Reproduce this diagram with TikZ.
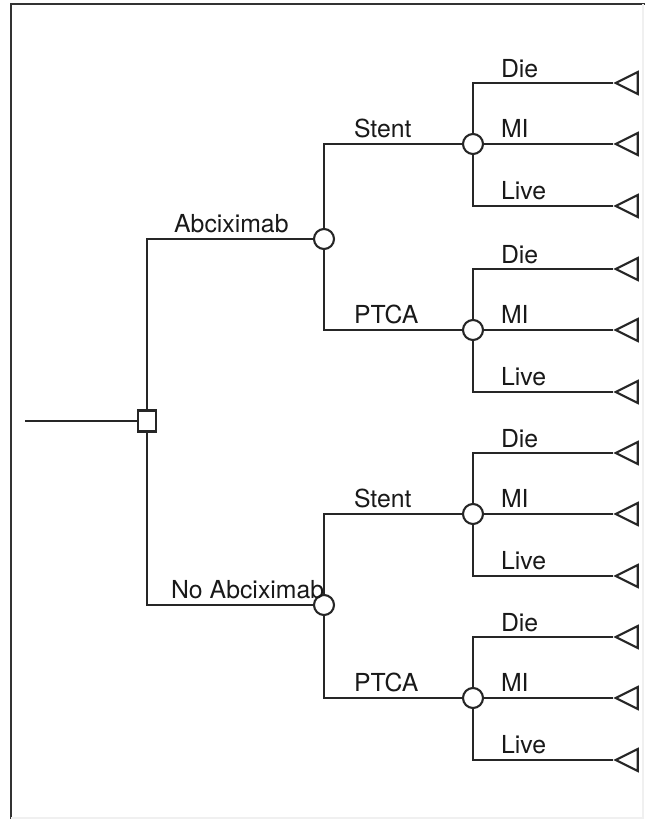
\documentclass[tikz,border=0pt]{standalone}
\usepackage{fontspec}
\setmainfont{TeX Gyre Heros}
\usetikzlibrary{shapes.geometric}

\begin{document}
\begin{tikzpicture}[
  x=0.5pt, y=-0.5pt,
  line width=1.05pt, draw=black!85,
  decision/.style={draw, rectangle, minimum width=9pt, minimum height=10.5pt, inner sep=0pt},
  chance/.style={draw, circle, minimum size=10pt, inner sep=0pt},
  terminal/.style={draw, isosceles triangle, shape border rotate=180,
    isosceles triangle stretches, minimum width=11pt, minimum height=11pt,
    inner sep=0pt, anchor=apex},
  lbl/.style={anchor=base west, inner sep=0pt, text=black!90,
    font=\fontsize{12.4}{14}\selectfont},
]
\useasboundingbox (0,0) rectangle (645,819);

% frame
\draw[black!80, line width=1.1pt] (645,4) -- (11,4) -- (11,819);
\draw[black!6, line width=0.6pt] (643,4) -- (643,818) -- (11,818);

% decision and treatment branches
\coordinate (root) at (25,421);
\node[decision] (dec) at (147,421) {};
\node[chance] (abx) at (324,239) {};
\node[chance] (noabx) at (324,605) {};
\node[lbl] (abxlbl) at (173,232) {Abciximab};
\node[lbl] (noabxlbl) at (170,598) {No Abciximab};

\draw (root) -- (dec);
\draw (dec) |- (abx);
\draw (dec) |- (noabx);

% procedure branches
\node[chance] (sA) at (473,144) {};
\node[chance] (pA) at (473,330) {};
\node[chance] (sN) at (473,514) {};
\node[chance] (pN) at (473,698) {};
\node[lbl] (sAlbl) at (353,137) {Stent};
\node[lbl] (pAlbl) at (353,323) {PTCA};
\node[lbl] (sNlbl) at (353,507) {Stent};
\node[lbl] (pNlbl) at (353,691) {PTCA};

\draw (abx) |- (sA);
\draw (abx) |- (pA);
\draw (noabx) |- (sN);
\draw (noabx) |- (pN);

% outcomes
\foreach \c/\y in {sA/144, pA/330, sN/514, pN/698} {
  \node[terminal] (\c-die) at (613,\y-61) {};
  \node[terminal] (\c-mi) at (613,\y) {};
  \node[terminal] (\c-live) at (613,\y+62) {};
  \draw (\c) |- (\c-die);
  \draw (\c) -- (\c-mi);
  \draw (\c) |- (\c-live);
  \node[lbl] at (500,\y-67) {Die};
  \node[lbl] at (500,\y-7) {MI};
  \node[lbl] at (500,\y+55) {Live};
}
\end{tikzpicture}
\end{document}
